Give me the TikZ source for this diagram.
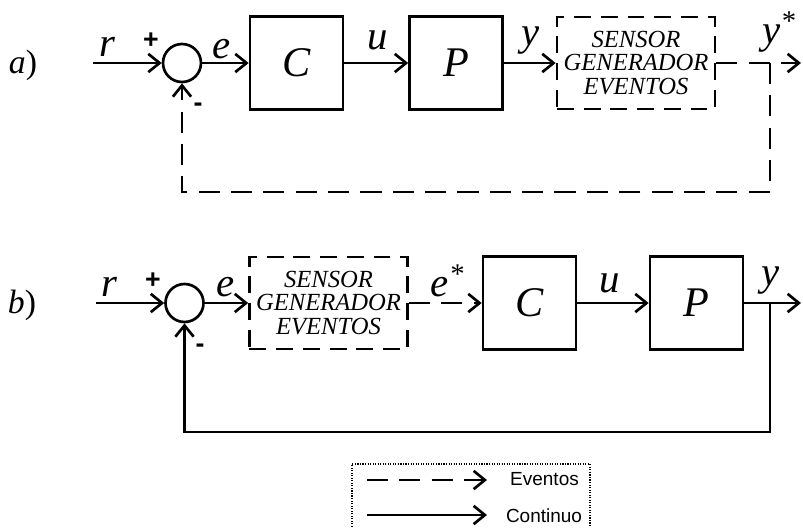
\documentclass[tikz,border=0pt]{standalone}
\usepackage{fontspec}
\setmainfont{Liberation Serif}
\newfontfamily\legfont{Liberation Sans}
\usetikzlibrary{arrows.meta, positioning, calc}

\begin{document}
\begin{tikzpicture}[
    x=0.025cm, y=-0.025cm,
    % Node styles
    block/.style={
        draw, line width=1.9pt, minimum width=2.325cm, minimum height=2.325cm,
        inner sep=0pt, font=\fontsize{30}{30}\selectfont\itshape
    },
    evbox/.style={
        draw, line width=1.9pt, dash pattern=on 12pt off 7pt,
        minimum width=3.95cm, minimum height=2.3cm, align=center, inner sep=0pt,
        font=\fontsize{17.5}{16.5}\selectfont\itshape
    },
    sumnode/.style={draw, circle, line width=1.9pt, minimum size=0.95cm, inner sep=0pt},
    % Arrow styles
    cont/.style={-{Straight Barb[length=8pt,width=13pt]}, line width=1.9pt},
    evt/.style={cont, dash pattern=on 15pt off 8pt},
    % Text styles
    sig/.style={font=\fontsize{29}{29}\selectfont\itshape, inner sep=1pt},
    sign/.style={font=\legfont\bfseries\fontsize{19}{19}\selectfont, inner sep=0pt},
    tag/.style={font=\fontsize{24}{24}\selectfont, inner sep=0pt},
    legtext/.style={font=\legfont\fontsize{13.5}{13.5}\selectfont, inner sep=0pt},
]

\useasboundingbox (0,0) rectangle (803,527);

% ============================================================
% a) event sensor in the feedback path
% ============================================================
\node[tag] (taga) at (23,65) {\textit{a})};
\coordinate (ina) at (93,63);
\node[sumnode] (suma) at (182,63) {};
\node[block] (ca) at (296.5,63) {C};
\node[block] (pa) at (456,63) {P};
\node[evbox] (sena) at (636,63) {SENSOR\\GENERADOR\\EVENTOS};
\coordinate (bra) at (770,63);
\coordinate (outa) at (801,63);
\coordinate (fba) at (770,192);

\node[sign] (plusa) at (151,41) {+};
\node[sign] (minusa) at (198,107) {-};

\draw[cont] (ina) -- node[sig, above=2.5pt, pos=0.21] (ra) {r} (suma.west);
\draw[cont] (suma.east) -- node[sig, above=1pt, pos=0.41] (ea) {e} (ca.west);
\draw[cont] (ca.east) -- node[sig, above=7pt, pos=0.52] (ua) {u} (pa.west);
\draw[cont] (pa.east) -- node[sig, above=4.5pt, pos=0.52] (ya) {y} (sena.west);
\draw[evt] (sena.east) -- node[sig, above=6pt, pos=0.74] (ysa) {y\textsuperscript{*}} (outa);

% feedback (dashed)
\draw[evt] (bra) -- (fba) -| (suma.south);

% ============================================================
% b) event sensor in the forward path
% ============================================================
\node[tag] (tagb) at (22,305) {\textit{b})};
\coordinate (inb) at (96,303);
\node[sumnode] (sumb) at (184.5,303) {};
\node[evbox] (senb) at (328.5,303) {SENSOR\\GENERADOR\\EVENTOS};
\node[block] (cb) at (529.5,303) {C};
\node[block] (pb) at (696.5,303) {P};
\coordinate (brb) at (770,303);
\coordinate (outb) at (801,303);
\coordinate (fbb) at (770,432);

\node[sign] (plusb) at (153,281) {+};
\node[sign] (minusb) at (200,348) {-};

\draw[cont] (inb) -- node[sig, above=2.5pt, pos=0.2] (rb) {r} (sumb.west);
\draw[cont] (sumb.east) -- node[sig, above=2.5pt, pos=0.48] (eb) {e} (senb.west);
\draw[evt] (senb.east) -- node[sig, above=2.5pt, pos=0.53] (esb) {e\textsuperscript{*}} (cb.west);
\draw[cont] (cb.east) -- node[sig, above=5pt, pos=0.46] (ub) {u} (pb.west);
\draw[cont] (pb.east) -- node[sig, above=4.5pt, pos=0.46] (yb) {y} (outb);

% feedback (solid)
\draw[cont] (brb) -- (fbb) -| (sumb.south);

% ============================================================
% legend
% ============================================================
\draw[densely dotted, line width=0.8pt] (352,532) |- (590,464) -- (590,532);
\coordinate (leva) at (367,480);
\coordinate (levb) at (487,480);
\coordinate (lcoa) at (367,515);
\coordinate (lcob) at (487,515);
\draw[evt] (leva) -- (levb);
\draw[cont] (lcoa) -- (lcob);
\node[legtext] (levt) at (544.5,479) {Eventos};
\node[legtext] (lcot) at (544,516) {Continuo};

\end{tikzpicture}
\end{document}
